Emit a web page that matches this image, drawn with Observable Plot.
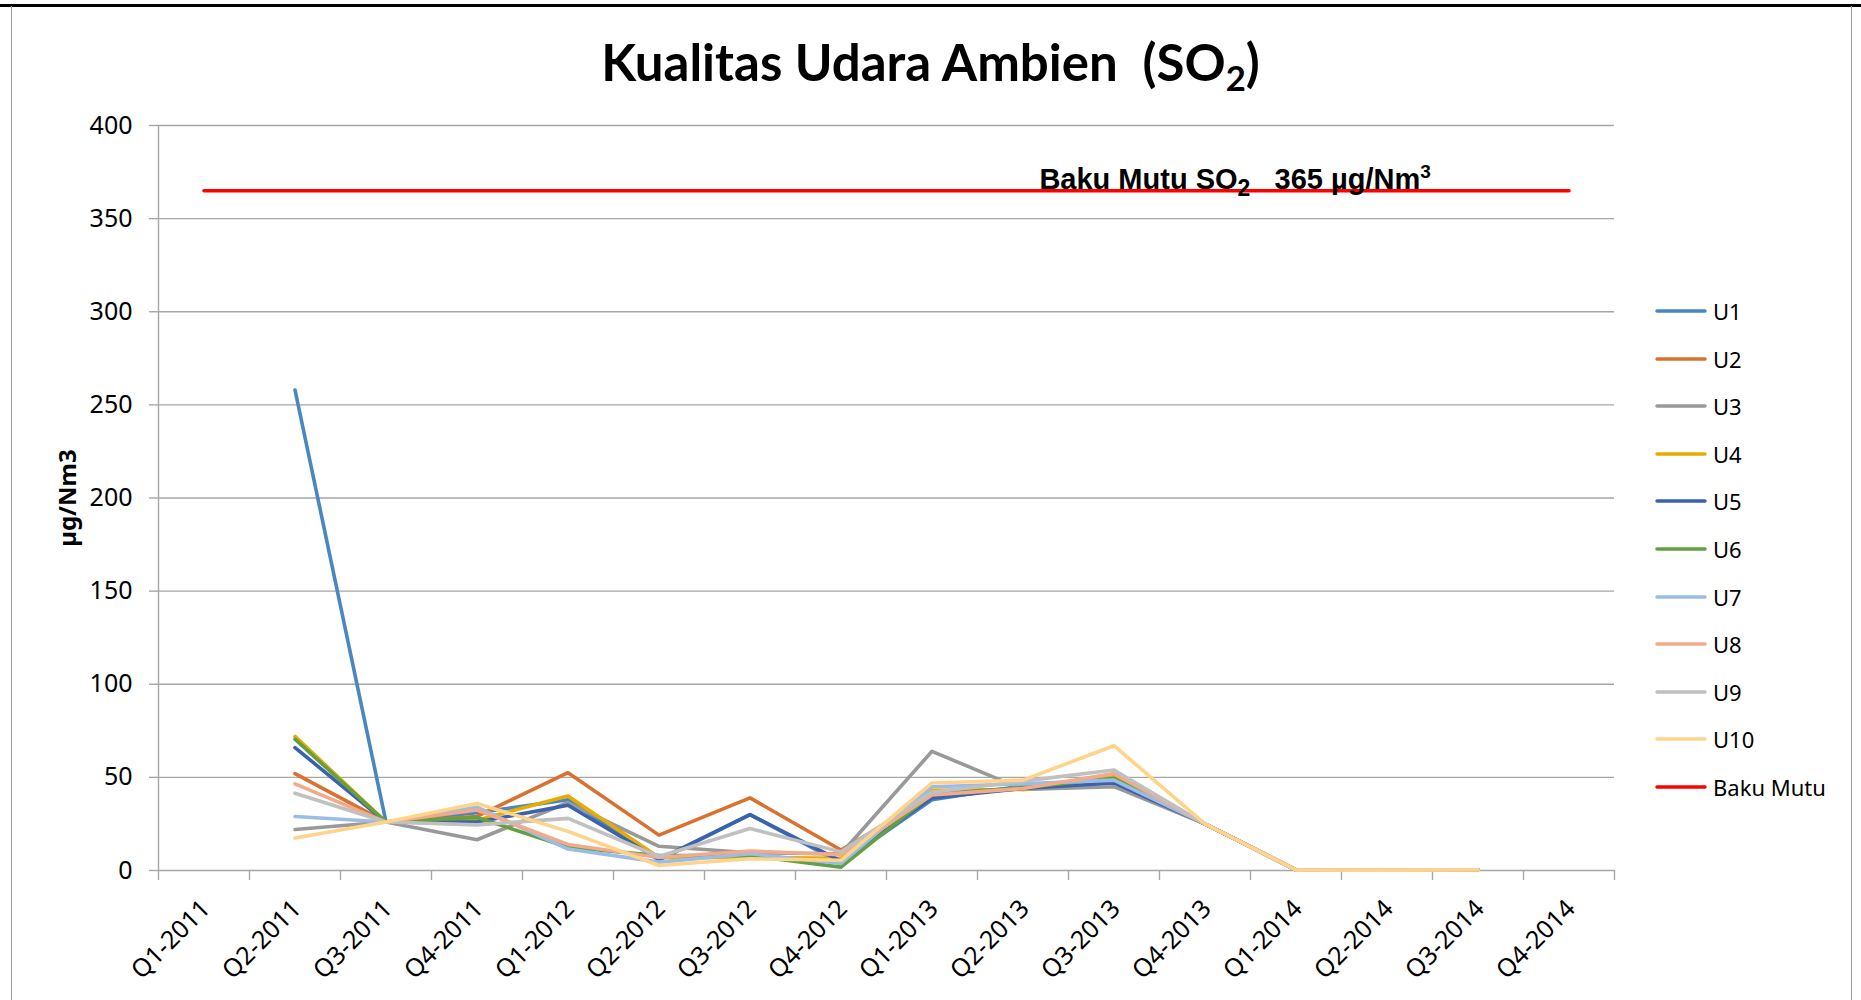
<!DOCTYPE html>
<html>
<head>
<meta charset="utf-8">
<script src="https://cdn.jsdelivr.net/npm/d3@7"></script>
<script src="https://cdn.jsdelivr.net/npm/@observablehq/plot@0.6"></script>
<style>
  html, body { margin: 0; padding: 0; background: #fff; }
  #wrap { position: relative; width: 1861px; height: 1000px; overflow: hidden; background: #fff; }
  #topline { position: absolute; left: 0; top: 4px; width: 1861px; height: 2.5px; background: #000; }
  #box { position: absolute; left: 11px; top: 6px; width: 1841px; height: 1000px;
         border-left: 1.5px solid #9a9a9a; border-right: 1.5px solid #9a9a9a; box-sizing: border-box; }
  #chart { position: absolute; left: 0; top: 0; }
  #title { position: absolute; left: 0; top: 31px; width: 1861px; text-align: center;
           font-family: Lato, 'Open Sans', sans-serif; font-weight: bold; font-size: 51px; line-height: 1.2; color: #000; white-space: pre; }
  #title .sub { font-size: 0.68em; position: relative; top: 0.3em; }
  #legend { position: absolute; left: 1655px; top: 0; font-family: 'Noto Sans', 'Open Sans', sans-serif; font-size: 22px; color: #000; }
  .item { position: absolute; left: 0; height: 30px; display: flex; align-items: center; white-space: nowrap; }
  .item svg { margin-right: 6px; }
</style>
</head>
<body>
<div id="wrap">
  <div id="topline"></div>
  <div id="box"></div>
  <div id="chart"></div>
  <div id="title">Kualitas Udara Ambien  (SO<span class="sub">2</span>)</div>
  <div id="legend"></div>
</div>
<script>
// ---- data ----
const quarters = ["Q1-2011","Q2-2011","Q3-2011","Q4-2011","Q1-2012","Q2-2012","Q3-2012","Q4-2012",
                  "Q1-2013","Q2-2013","Q3-2013","Q4-2013","Q1-2014","Q2-2014","Q3-2014","Q4-2014"];
const U1  = [null, 258,  26, 31,   38,   5.5, 30,   4,   38,   45.5, 48,   25, 0.3, 0.2, 0.4, null];
const U2  = [null, 52,   26, 29,   52.5, 19,  39,   11,  40,   44,   51,   25, 0.3, 0.2, 0.4, null];
const U3  = [null, 22,   26, 16.5, 36.5, 13,  9.5,  9,   64,   43.5, 45,   25, 0.3, 0.2, 0.4, null];
const U4  = [null, 72,   26, 27,   40,   7,   7,    6.5, 43,   43.5, 50,   25, 0.3, 0.2, 0.4, null];
const U5  = [null, 66,   26, 26,   35,   6,   30,   5,   39,   44,   47,   25, 0.3, 0.2, 0.4, null];
const U6  = [null, 70.5, 26, 28.5, 12.5, 8,   8,    1.8, 41,   44.5, 49.5, 25, 0.3, 0.2, 0.4, null];
const U7  = [null, 29,   26, 34,   11.5, 4.5, 9,    3.8, 45,   46.5, 48.5, 25, 0.3, 0.2, 0.4, null];
const U8  = [null, 46.5, 26, 32.5, 14,   7,   10.5, 8.5, 40.5, 44,   52,   25, 0.3, 0.2, 0.4, null];
const U9  = [null, 41.5, 26, 24.5, 28,   7.5, 22.5, 10,  42,   48,   54,   25, 0.3, 0.2, 0.4, null];
const U10 = [null, 17.5, 26, 36,   21,   2.7, 6.3,  5.5, 47,   48.5, 67,   25, 0.3, 0.2, 0.4, null];
const bakuMutu = [365, 365, 365, 365, 365, 365, 365, 365, 365, 365, 365, 365, 365, 365, 365, 365];
const seriesNames = ["U1","U2","U3","U4","U5","U6","U7","U8","U9","U10","Baku Mutu"];
const seriesValues = [U1, U2, U3, U4, U5, U6, U7, U8, U9, U10, bakuMutu];
const seriesColors = ["#4a86c0","#d97230","#999999","#e6ac00","#3a62ad","#64a040","#99bde6","#f2aa8c","#c0c0c0","#ffd38a","#ff0000"];
const yTicks = [0, 50, 100, 150, 200, 250, 300, 350, 400];
const yLabel = "µg/Nm3";
// annotation pieces: [text, kind]
const noteParts = [["Baku Mutu SO", "n"], ["2", "sub"], ["   365 µg/Nm", "n"], ["3", "sup"]];

// ---- table ----
const rows = seriesNames.flatMap((name, k) =>
  seriesValues[k].map((v, i) => ({name, pos: i + 0.5, v})));

const grid = "#a6a6a6";
const chart = Plot.plot({
  width: 1861,
  height: 1000,
  marginLeft: 158,
  marginRight: 247,
  marginTop: 125,
  marginBottom: 130,
  style: {fontFamily: "'Noto Sans', 'Open Sans', sans-serif", fontSize: "25px", color: "#000", background: "transparent"},
  x: {type: "linear", domain: [0, quarters.length], axis: null},
  y: {domain: [0, 400], axis: null},
  color: {domain: seriesNames, range: seriesColors},
  marks: [
    Plot.gridY(yTicks, {stroke: grid, strokeOpacity: 1, strokeWidth: 1.4}),
    Plot.ruleX([0], {stroke: grid, strokeWidth: 1.4}),
    Plot.axisY(yTicks, {tickSize: 9, tickPadding: 17, stroke: grid, strokeWidth: 1.4, fill: "#000", label: null}),
    Plot.axisX(d3.range(quarters.length + 1), {tickSize: 10, fill: "none", stroke: grid, strokeWidth: 1.4, label: null}),
    Plot.axisX(d3.range(quarters.length).map(i => i + 0.5), {
      tickSize: 0, tickPadding: 34, tickRotate: -45, textAnchor: "end", lineAnchor: "middle", dx: 2,
      tickFormat: d => quarters[Math.floor(d)], fill: "#000", label: null
    }),
    Plot.line(rows, {x: "pos", y: "v", z: "name", stroke: "name", strokeWidth: 3.6,
      strokeLinejoin: "round", strokeLinecap: "round"}),
    Plot.text(["Baku Mutu SO2   365 µg/Nm3"], {x: 9.68, y: 365, text: d => d, textAnchor: "start", lineAnchor: "bottom", dy: -2,
      fontFamily: "'Liberation Sans', Arial, sans-serif", fontWeight: "bold", fontSize: 29, fill: "#000", className: "note"}),
    Plot.text([yLabel], {frameAnchor: "left", text: d => d, rotate: -90, dx: -90, textAnchor: "middle",
      fontWeight: "bold", fontSize: 24, fill: "#000"})
  ]
});
document.getElementById("chart").appendChild(chart);

// rebuild the annotation with real subscript / superscript
d3.select(chart).selectAll(".note text").each(function() {
  const t = d3.select(this);
  t.text(null).attr("xml:space", "preserve").style("white-space", "pre");
  let shift = 0;
  noteParts.forEach(([s, kind]) => {
    const target = kind === "sub" ? 7 : kind === "sup" ? -11 : 0;
    const sp = t.append("tspan").text(s).attr("dy", target - shift);
    if (kind !== "n") sp.attr("font-size", kind === "sub" ? 23 : 19);
    shift = target;
  });
});

// ---- legend ----
const legend = d3.select("#legend");
seriesNames.forEach((name, k) => {
  const item = legend.append("div").attr("class", "item").style("top", (296 + k * 47.6) + "px");
  const sw = item.append("svg").attr("width", 52).attr("height", 8);
  sw.append("line").attr("x1", 2).attr("x2", 50).attr("y1", 4).attr("y2", 4)
    .attr("stroke", seriesColors[k]).attr("stroke-width", 3.5).attr("stroke-linecap", "round");
  item.append("span").text(name);
});
</script>
</body>
</html>
